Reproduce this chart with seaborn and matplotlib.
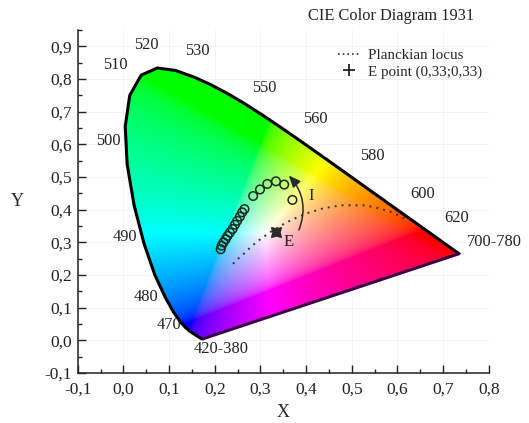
import numpy as np
import matplotlib
matplotlib.use("Agg")
import matplotlib.pyplot as plt
import seaborn as sns
import pandas as pd
from matplotlib.patches import Polygon, FancyArrowPatch
from matplotlib.lines import Line2D
from matplotlib.ticker import MultipleLocator, FuncFormatter

# CIE 1931 2deg spectral locus, 380-700 nm every 5 nm (700-780 stays at the same point)
locus_x = [0.1741, 0.1740, 0.1738, 0.1736, 0.1733, 0.1730, 0.1726, 0.1721, 0.1714, 0.1703,
           0.1689, 0.1669, 0.1644, 0.1611, 0.1566, 0.1510, 0.1440, 0.1355, 0.1241, 0.1096,
           0.0913, 0.0687, 0.0454, 0.0235, 0.0082, 0.0039, 0.0139, 0.0389, 0.0743, 0.1142,
           0.1547, 0.1929, 0.2296, 0.2658, 0.3016, 0.3373, 0.3731, 0.4087, 0.4441, 0.4788,
           0.5125, 0.5448, 0.5752, 0.6029, 0.6270, 0.6482, 0.6658, 0.6801, 0.6915, 0.7006,
           0.7079, 0.7140, 0.7190, 0.7230, 0.7260, 0.7283, 0.7300, 0.7311, 0.7320, 0.7327,
           0.7334, 0.7340, 0.7344, 0.7346, 0.7347]
locus_y = [0.0050, 0.0050, 0.0049, 0.0049, 0.0048, 0.0048, 0.0048, 0.0048, 0.0051, 0.0058,
           0.0069, 0.0086, 0.0109, 0.0138, 0.0177, 0.0227, 0.0297, 0.0399, 0.0578, 0.0868,
           0.1327, 0.2007, 0.2950, 0.4127, 0.5384, 0.6548, 0.7502, 0.8120, 0.8338, 0.8262,
           0.8059, 0.7816, 0.7543, 0.7243, 0.6923, 0.6589, 0.6245, 0.5896, 0.5547, 0.5202,
           0.4866, 0.4544, 0.4242, 0.3965, 0.3725, 0.3514, 0.3340, 0.3197, 0.3083, 0.2993,
           0.2920, 0.2859, 0.2809, 0.2770, 0.2740, 0.2717, 0.2700, 0.2689, 0.2680, 0.2673,
           0.2666, 0.2660, 0.2656, 0.2654, 0.2653]

# Planckian locus (from very high T down to ~1200 K)
planck_x = [0.2399, 0.2470, 0.2528, 0.2637, 0.2807, 0.2952, 0.3135, 0.3221, 0.3451, 0.3608,
            0.3805, 0.4053, 0.4369, 0.4770, 0.5266, 0.5496, 0.5857, 0.6250]
planck_y = [0.2342, 0.2441, 0.2522, 0.2651, 0.2884, 0.3048, 0.3236, 0.3318, 0.3516, 0.3636,
            0.3768, 0.3907, 0.4041, 0.4137, 0.4133, 0.4081, 0.3931, 0.3674]

# measured points
pts_x = [0.370, 0.352, 0.334, 0.315, 0.299, 0.284, 0.265, 0.260, 0.255, 0.249,
         0.244, 0.239, 0.233, 0.228, 0.224, 0.219, 0.215, 0.213]
pts_y = [0.430, 0.477, 0.487, 0.479, 0.462, 0.442, 0.402, 0.392, 0.379, 0.366,
         0.354, 0.341, 0.330, 0.320, 0.310, 0.300, 0.290, 0.279]

e_point = (0.333, 0.333)

wl_labels = ["520", "530", "510", "550", "560", "580", "600", "620", "700-780",
             "500", "490", "480", "470", "420-380"]
wl_pos = [(0.051, 0.903), (0.161, 0.886), (-0.017, 0.842), (0.308, 0.773), (0.420, 0.678),
          (0.544, 0.564), (0.656, 0.448), (0.730, 0.376), (0.813, 0.300),
          (-0.034, 0.610), (0.003, 0.315), (0.049, 0.133), (0.100, 0.047), (0.215, -0.027)]

sns.set_theme(style="ticks")
plt.rcParams["font.family"] = ["Liberation Serif", "DejaVu Serif"]

fig, ax = plt.subplots(figsize=(5.29, 4.23), dpi=100)
fig.subplots_adjust(left=0.147, right=0.924, bottom=0.118, top=0.929)

# colour fill of the horseshoe
gx = np.linspace(0.0, 0.75, 500)
gy = np.linspace(0.002, 0.85, 500)
GX, GY = np.meshgrid(gx, gy)
XX = GX / GY
YY = np.ones_like(GX)
ZZ = (1 - GX - GY) / GY
R = 3.2406 * XX - 1.5372 * YY - 0.4986 * ZZ
G = -0.9689 * XX + 1.8758 * YY + 0.0415 * ZZ
B = 0.0557 * XX - 0.2040 * YY + 1.0570 * ZZ
rgb = np.clip(np.dstack([R, G, B]), 0, None)
rgb = rgb / np.maximum(rgb.max(axis=2, keepdims=True), 1e-9)
rgb = np.where(rgb <= 0.0031308, 12.92 * rgb, 1.055 * rgb ** (1 / 2.4) - 0.055)
rgb = np.clip(rgb, 0, 1)

poly = Polygon(np.column_stack([locus_x, locus_y]), closed=True, facecolor="none",
               edgecolor="none", transform=ax.transData)
ax.add_patch(poly)
im = ax.imshow(rgb, extent=(0.0, 0.75, 0.002, 0.85), origin="lower", aspect="auto",
               interpolation="bilinear", zorder=1)
im.set_clip_path(poly)

# outline
locus_df = pd.DataFrame({"x": locus_x, "y": locus_y})
sns.lineplot(data=locus_df, x="x", y="y", sort=False, estimator=None, color="black",
             lw=2.2, ax=ax, zorder=3, solid_joinstyle="round")
ax.plot([locus_x[-1], locus_x[0]], [locus_y[-1], locus_y[0]], color="#3c0044", lw=2.2,
        zorder=3, solid_capstyle="round")

# Planckian locus
planck_df = pd.DataFrame({"x": planck_x, "y": planck_y})
sns.lineplot(data=planck_df, x="x", y="y", estimator=None, color="#333333", lw=1.4,
             linestyle=(0, (1, 2.6)), ax=ax, zorder=4)

# measured points
pts_df = pd.DataFrame({"x": pts_x, "y": pts_y})
sns.scatterplot(data=pts_df, x="x", y="y", s=38, facecolor="none", edgecolor="#1c2a1c",
                linewidth=1.1, ax=ax, zorder=5)

# E point
ax.plot(*e_point, marker=(4, 1, 45), ms=10, color="#2a2a2a", mew=1, zorder=6)
ax.text(0.361, 0.300, "E", fontsize=12, ha="center", va="center", color="#222222", zorder=6)

# arrow I
arr = FancyArrowPatch(posA=(0.382, 0.330), posB=(0.358, 0.511),
                      connectionstyle="arc3,rad=0.33",
                      arrowstyle="-|>,head_length=0.7,head_width=0.3", mutation_scale=10,
                      lw=1.1, color="#2a2a2a", zorder=6)
ax.add_patch(arr)
ax.text(0.412, 0.441, "I", fontsize=12, ha="center", va="center", color="#222222", zorder=6)

# wavelength labels
for lab, (lx, ly) in zip(wl_labels, wl_pos):
    ax.text(lx, ly, lab, fontsize=11.8, ha="center", va="center", color="#222222",
            clip_on=False, zorder=7)

# axes styling
ax.set_xlim(-0.1, 0.8)
ax.set_ylim(-0.1, 0.95)
ax.set_xlabel("X", fontsize=13, labelpad=5)
ax.set_ylabel("Y", fontsize=13, rotation=0, labelpad=20, va="center")
fmt = FuncFormatter(lambda v, _: ("%.1f" % (0.0 if abs(v) < 1e-9 else v)).replace(".", ","))
for axis in (ax.xaxis, ax.yaxis):
    axis.set_major_locator(MultipleLocator(0.1))
    axis.set_minor_locator(MultipleLocator(0.05))
    axis.set_major_formatter(fmt)
ax.tick_params(which="major", direction="in", length=6, width=1, labelsize=12.5,
               colors="#222222")
ax.tick_params(which="minor", direction="in", length=3, width=1, colors="#222222")
ax.tick_params(axis="x", which="major", pad=6)
ax.tick_params(axis="y", which="major", pad=4)
ax.set_yticks(np.round(np.arange(-0.1, 0.91, 0.1), 2))
ax.grid(True, which="major", color="#f1f1f1", lw=0.6, zorder=0)
ax.set_axisbelow(True)
sns.despine(ax=ax)
for s in ("left", "bottom"):
    ax.spines[s].set_linewidth(1.1)
    ax.spines[s].set_color("#222222")

# legend
handles = [Line2D([], [], color="#333333", lw=1.2, linestyle=(0, (1, 1.8))),
           Line2D([], [], color="#222222", marker="+", ms=8, mew=1.3, linestyle="none")]
ax.legend(handles, ["Planckian locus", "E point (0,33;0,33)"], loc="upper left",
          bbox_to_anchor=(0.6, 0.985), frameon=False, fontsize=10.8, handlelength=1.5,
          handletextpad=0.5, labelspacing=0.2)

fig.text(0.74, 0.962, "CIE Color Diagram 1931", fontsize=11.8, ha="center", va="center",
         color="#222222")

fig.savefig("out.png", dpi=100)
